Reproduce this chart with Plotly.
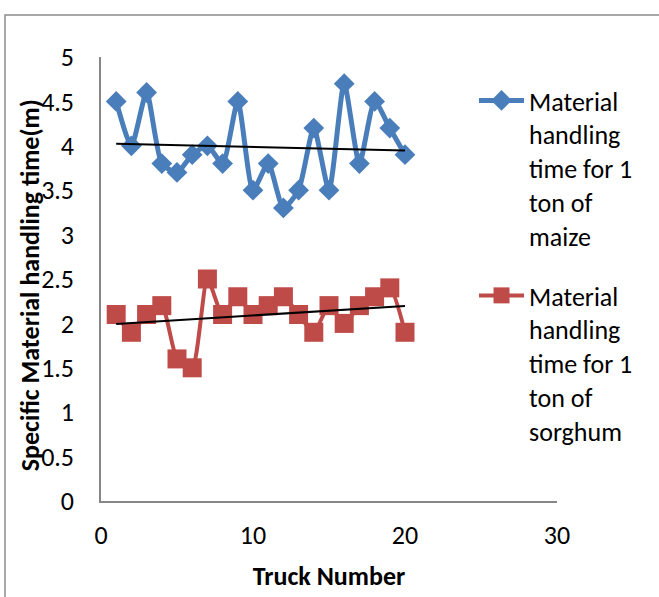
import numpy as np
import plotly.graph_objects as go

trucks = list(range(1, 21))
maize = [4.5, 4.0, 4.6, 3.8, 3.7, 3.9, 4.0, 3.8, 4.5, 3.5,
         3.8, 3.3, 3.5, 4.2, 3.5, 4.7, 3.8, 4.5, 4.2, 3.9]
sorghum = [2.1, 1.9, 2.1, 2.2, 1.6, 1.5, 2.5, 2.1, 2.3, 2.1,
           2.2, 2.3, 2.1, 1.9, 2.2, 2.0, 2.2, 2.3, 2.4, 1.9]
name_maize = "Material<br>handling<br>time for 1<br>ton of<br>maize"
name_sorghum = "Material<br>handling<br>time for 1<br>ton of<br>sorghum"
x_ticks = [0, 10, 20, 30]
y_ticks = [0, 0.5, 1, 1.5, 2, 2.5, 3, 3.5, 4, 4.5, 5]
y_tick_text = ["0", "0.5", "1", "1.5", "2", "2.5", "3", "3.5", "4", "4.5", "5"]
x_title = "Truck Number"
y_title = "Specific Material handling time(m)"

BLUE = "#4A7EBB"
RED = "#BE4B48"
FONT = "Carlito, Calibri, Lato, sans-serif"
FS = 26

x = np.array(trucks, dtype=float)
fit_m = np.polyfit(x, maize, 1)
fit_s = np.polyfit(x, sorghum, 1)
tx = np.array([trucks[0], trucks[-1]], dtype=float)

fig = go.Figure()
fig.add_trace(go.Scatter(
    x=trucks, y=maize, name=name_maize, mode="lines+markers", legendgroup="maize",
    line=dict(color=BLUE, width=5, shape="spline", smoothing=0.6),
    marker=dict(symbol="diamond", size=16, color=BLUE),
))
fig.add_trace(go.Scatter(
    x=trucks, y=sorghum, name=name_sorghum, mode="lines+markers", legendgroup="sorghum",
    line=dict(color=RED, width=4, shape="spline", smoothing=0.6),
    marker=dict(symbol="square", size=19, color=RED),
))
fig.add_trace(go.Scatter(
    x=tx, y=np.polyval(fit_m, tx), mode="lines", showlegend=False,
    line=dict(color="black", width=2), hoverinfo="skip",
))
fig.add_trace(go.Scatter(
    x=tx, y=np.polyval(fit_s, tx), mode="lines", showlegend=False,
    line=dict(color="black", width=2), hoverinfo="skip",
))

axis_common = dict(
    showgrid=False, zeroline=False, showline=True, linecolor="#868686",
    linewidth=1.5, ticks="", tickfont=dict(family=FONT, size=FS, color="black"),
)
fig.update_xaxes(
    range=[0, 30], tickvals=x_ticks, ticklabelstandoff=10,
    title=dict(text="<b>" + x_title + "</b>", font=dict(family=FONT, size=FS, color="black"), standoff=17),
    **axis_common,
)
fig.update_yaxes(
    range=[0, 5], tickvals=y_ticks, ticktext=y_tick_text, ticklabelstandoff=20,
    **axis_common,
)

fig.update_layout(
    width=659, height=597,
    margin=dict(l=101, r=102, t=57, b=96),
    paper_bgcolor="white", plot_bgcolor="white",
    showlegend=True,
    legend=dict(
        x=0.818, y=0.955, xanchor="left", yanchor="top",
        font=dict(family=FONT, size=FS, color="black"),
        valign="top", tracegroupgap=23, itemwidth=45, bgcolor="rgba(0,0,0,0)",
    ),
    annotations=[dict(
        text="<b>" + y_title + "</b>", textangle=-90,
        xref="paper", yref="paper", x=-0.1557, y=0.486,
        xanchor="center", yanchor="middle", showarrow=False,
        font=dict(family=FONT, size=FS, color="black"),
    )],
    shapes=[dict(
        type="rect", xref="paper", yref="paper",
        x0=-0.2105, x1=1.25, y0=-0.25, y1=1.0946,
        line=dict(color="#8c8c8c", width=1.5), fillcolor="rgba(0,0,0,0)", layer="below",
    )],
)

fig.write_html("out.html")
